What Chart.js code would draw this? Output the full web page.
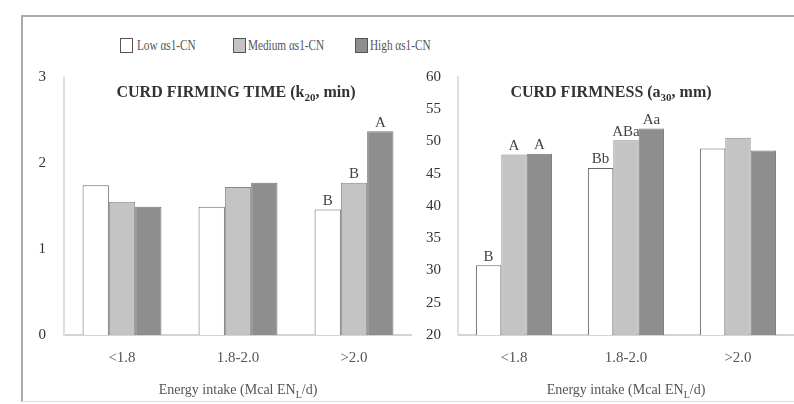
<!DOCTYPE html>
<html>
<head>
<meta charset="utf-8">
<script src="https://cdn.jsdelivr.net/npm/chart.js@4.4.0/dist/chart.umd.min.js"></script>
<style>
  body { margin: 0; background: #fff; }
  .page { position: relative; width: 794px; height: 404px; overflow: hidden; font-family: "Liberation Serif", "DejaVu Serif", serif; }
  .frame { position: absolute; left: 21px; top: 15px; width: 780px; height: 384px; border-top: 2px solid #aaa; border-left: 2px solid #aaa; border-bottom: 1px solid #ddd; }
  .box { position: absolute; }
  .legend { position: absolute; top: 36px; left: 0; height: 18px; font-size: 15px; color: #555; }
  .legend span { position: absolute; white-space: nowrap; top: 0; line-height: 18px; transform: scaleX(0.75); transform-origin: left center; }
  .legend i { position: absolute; top: 2px; width: 11px; height: 13px; border: 1px solid #555; }
</style>
</head>
<body>
<div class="page">
  <div class="frame"></div>
  <div class="legend">
    <i style="left:120px;background:#fff"></i><span style="left:137px">Low αs1-CN</span>
    <i style="left:233px;background:#c4c4c4"></i><span style="left:248px">Medium αs1-CN</span>
    <i style="left:355px;background:#8e8e8e"></i><span style="left:370px">High αs1-CN</span>
  </div>
  <div class="box" style="left:0;top:0;width:412px;height:404px"><canvas id="timeChart"></canvas></div>
  <div class="box" style="left:412px;top:0;width:382px;height:404px"><canvas id="firmChart"></canvas></div>
</div>
<script>
// categories (energy intake groups)
const categories = ['<1.8', '1.8-2.0', '>2.0'];

// curd firming time k20, min
const timeLow = [1.74, 1.49, 1.46];
const timeMedium = [1.55, 1.72, 1.77];
const timeHigh = [1.49, 1.77, 2.37];
const timeLowLetters = ['', '', 'B'];
const timeMediumLetters = ['', '', 'B'];
const timeHighLetters = ['', '', 'A'];

// curd firmness a30, mm
const firmLow = [30.8, 45.9, 48.9];
const firmMedium = [48.0, 50.2, 50.6];
const firmHigh = [48.1, 52.0, 48.6];
const firmLowLetters = ['B', 'Bb', ''];
const firmMediumLetters = ['A', 'ABa', ''];
const firmHighLetters = ['A', 'Aa', ''];

const serif = '"Liberation Serif", "DejaVu Serif", serif';

// draws text with subscript parts, centered on cx
function drawRich(ctx, parts, cx, cy, size, bold, color) {
  const big = (bold ? 'bold ' : '') + size + 'px ' + serif;
  const small = (bold ? 'bold ' : '') + Math.round(size * 0.7) + 'px ' + serif;
  let w = 0;
  parts.forEach(p => { ctx.font = p.sub ? small : big; w += ctx.measureText(p.t).width; });
  let x = cx - w / 2;
  ctx.save();
  ctx.fillStyle = color;
  ctx.textBaseline = 'middle';
  ctx.textAlign = 'left';
  parts.forEach(p => {
    ctx.font = p.sub ? small : big;
    ctx.fillText(p.t, x, p.sub ? cy + size * 0.35 : cy);
    x += ctx.measureText(p.t).width;
  });
  ctx.restore();
}

const xTitle = [{t: 'Energy intake (Mcal EN'}, {t: 'L', sub: true}, {t: '/d)'}];

const letterPlugin = {
  id: 'letters',
  afterDatasetsDraw(chart, args, opts) {
    const ctx = chart.ctx;
    ctx.save();
    ctx.font = '15px ' + serif;
    ctx.fillStyle = '#444';
    ctx.textAlign = 'center';
    ctx.textBaseline = 'bottom';
    chart.data.datasets.forEach((ds, i) => {
      chart.getDatasetMeta(i).data.forEach((bar, j) => {
        const s = ds.letters[j];
        if (s) ctx.fillText(s, bar.x, bar.y - 1);
      });
    });
    ctx.restore();
  },
  afterDraw(chart, args, opts) {
    const ctx = chart.ctx;
    const a = chart.chartArea;
    drawRich(ctx, opts.title, opts.titleX, 93, 16, true, '#333');
    drawRich(ctx, xTitle, (a.left + a.right) / 2, 390, 14, false, '#555');
  }
};

function makeChart(id, low, med, high, lowL, medL, highL, yMin, yMax, step, yWidth, yPad, title, titleX) {
  const mk = (label, data, letters, bg, border) => ({
    label, data, letters,
    backgroundColor: bg,
    borderColor: border,
    borderWidth: 1,
    barPercentage: 1.0,
    categoryPercentage: 0.68
  });
  return new Chart(document.getElementById(id), {
    type: 'bar',
    data: {
      labels: categories,
      datasets: [
        mk('Low αs1-CN', low, lowL, '#ffffff', '#666'),
        mk('Medium αs1-CN', med, medL, '#c4c4c4', '#888'),
        mk('High αs1-CN', high, highL, '#8e8e8e', '#777')
      ]
    },
    options: {
      maintainAspectRatio: false,
      responsive: true,
      animation: false,
      layout: { padding: { top: 77, right: 0, left: 0, bottom: 0 } },
      scales: {
        x: {
          grid: { display: false },
          border: { color: '#d4d4d4', width: 2 },
          ticks: { color: '#555', font: { family: serif, size: 15 }, padding: 6 },
          afterFit(scale) { scale.height = 69; }
        },
        y: {
          min: yMin,
          max: yMax,
          grid: { display: false },
          border: { color: '#e0e0e0', width: 2 },
          ticks: { stepSize: step, color: '#333', font: { family: serif, size: 15 }, padding: yPad },
          afterFit(scale) { scale.width = yWidth; }
        }
      },
      plugins: {
        legend: { display: false },
        tooltip: { enabled: false },
        letters: { title, titleX }
      }
    },
    plugins: [letterPlugin]
  });
}

makeChart('timeChart', timeLow, timeMedium, timeHigh, timeLowLetters, timeMediumLetters, timeHighLetters,
  0, 3, 1, 64, 10,
  [{t: 'CURD FIRMING TIME (k'}, {t: '20', sub: true}, {t: ', min)'}], 236);

makeChart('firmChart', firmLow, firmMedium, firmHigh, firmLowLetters, firmMediumLetters, firmHighLetters,
  20, 60, 5, 46, 9,
  [{t: 'CURD FIRMNESS (a'}, {t: '30', sub: true}, {t: ', mm)'}], 199);
</script>
</body>
</html>
